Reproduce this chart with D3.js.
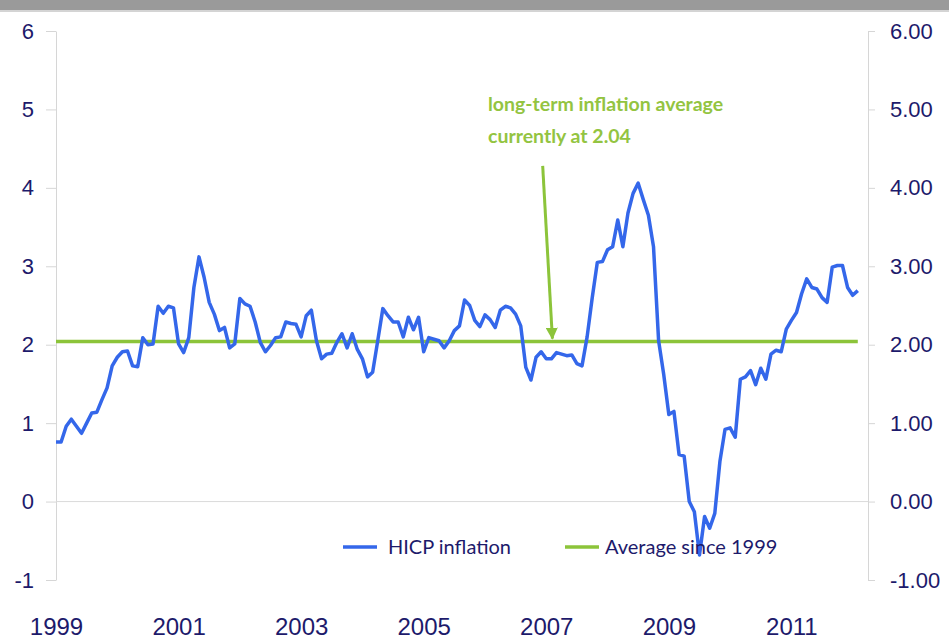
<!DOCTYPE html>
<html>
<head>
  <meta charset="UTF-8">
  <title>HICP inflation</title>
  <script src="https://cdn.jsdelivr.net/npm/d3@7/dist/d3.min.js"></script>
  <style>
    body { margin: 0; background: #fff; }
    svg { display: block; font-family: Lato, "Open Sans", sans-serif; }
    .axis text { fill: #1d1a6b; }
    .axis .domain, .axis .tick line { stroke: #d6d6d6; }
  </style>
</head>
<body>
<div id="chart"></div>
<script>
  // monthly HICP inflation, Jan 1999 .. Feb 2012
  var hicp = [
    0.76, 0.76, 0.96, 1.05, 0.96, 0.87, 1.00, 1.13, 1.14, 1.30, 1.45, 1.73,   // 1999
    1.84, 1.91, 1.92, 1.73, 1.72, 2.09, 2.00, 2.01, 2.49, 2.40, 2.49, 2.47,   // 2000
    2.01, 1.90, 2.09, 2.73, 3.12, 2.86, 2.54, 2.39, 2.18, 2.22, 1.96, 2.01,   // 2001
    2.59, 2.52, 2.49, 2.29, 2.03, 1.91, 1.99, 2.09, 2.10, 2.29, 2.27, 2.26,   // 2002
    2.10, 2.37, 2.44, 2.05, 1.82, 1.88, 1.89, 2.03, 2.14, 1.96, 2.14, 1.94,   // 2003
    1.82, 1.59, 1.65, 2.05, 2.46, 2.37, 2.29, 2.29, 2.10, 2.35, 2.19, 2.35,   // 2004
    1.91, 2.09, 2.07, 2.05, 1.96, 2.05, 2.18, 2.24, 2.57, 2.50, 2.31, 2.23,   // 2005
    2.38, 2.32, 2.22, 2.44, 2.49, 2.47, 2.39, 2.24, 1.71, 1.55, 1.84, 1.91,   // 2006
    1.82, 1.82, 1.90, 1.88, 1.86, 1.87, 1.76, 1.73, 2.10, 2.60, 3.05, 3.06,   // 2007
    3.21, 3.25, 3.59, 3.25, 3.68, 3.93, 4.06, 3.85, 3.65, 3.25, 2.05, 1.62,   // 2008
    1.11, 1.15, 0.60, 0.58, 0.00, -0.13, -0.68, -0.19, -0.34, -0.15, 0.51, 0.92, // 2009
    0.94, 0.82, 1.56, 1.59, 1.67, 1.49, 1.70, 1.56, 1.88, 1.93, 1.91, 2.20,   // 2010
    2.31, 2.41, 2.65, 2.84, 2.73, 2.71, 2.60, 2.54, 2.99, 3.01, 3.01, 2.73,   // 2011
    2.63, 2.69                                                                // 2012
  ];
  var average = 2.04;
  var yearLabels = ['1999', '2001', '2003', '2005', '2007', '2009', '2011'];
  var leftTicks = [-1, 0, 1, 2, 3, 4, 5, 6];
  var rightTicks = [-1, 0, 1, 2, 3, 4, 5, 6];

  var W = 949, H = 642;
  var blue = '#3467ea', green = '#8cc43a', navy = '#1d1a6b';

  var svg = d3.select('#chart').append('svg')
    .attr('width', W)
    .attr('height', H);

  // grey strip at the top
  svg.append('rect').attr('x', 0).attr('y', 0).attr('width', W).attr('height', 10).attr('fill', '#9a9a9a');
  svg.append('rect').attr('x', 0).attr('y', 10).attr('width', W).attr('height', 2).attr('fill', '#d4d4d4');

  var x = d3.scaleLinear().domain([0, 159]).range([56, 868]);
  var y = d3.scaleLinear().domain([-1, 6]).range([580, 31]);

  // left axis
  svg.append('g')
    .attr('class', 'axis')
    .attr('transform', 'translate(' + x(0) + ',0)')
    .call(d3.axisLeft(y).tickValues(leftTicks).tickSize(10).tickSizeOuter(0).tickPadding(12)
      .tickFormat(d => d < 0 ? '-' + Math.abs(d) : d))
    .selectAll('text').style('font-size', '22px');

  // right axis
  svg.append('g')
    .attr('class', 'axis')
    .attr('transform', 'translate(' + x(159) + ',0)')
    .call(d3.axisRight(y).tickValues(rightTicks).tickSize(7).tickSizeOuter(0).tickPadding(15)
      .tickFormat(d => (d < 0 ? '-' : '') + Math.abs(d).toFixed(2)))
    .selectAll('text').style('font-size', '22px');

  // year labels
  var xAxis = svg.append('g')
    .attr('class', 'axis')
    .attr('transform', 'translate(0,' + y(-1) + ')')
    .call(d3.axisBottom(x).tickValues(yearLabels.map((d, i) => i * 24)).tickSize(0).tickPadding(38)
      .tickFormat((d, i) => yearLabels[i]));
  xAxis.select('.domain').remove();
  xAxis.selectAll('text').style('font-size', '24px');

  // zero line
  svg.append('line')
    .attr('x1', x(0)).attr('x2', x(159))
    .attr('y1', y(0)).attr('y2', y(0))
    .attr('stroke', '#dadada').attr('stroke-width', 1);

  // average line
  svg.append('line')
    .attr('x1', x(0)).attr('x2', x(hicp.length - 1))
    .attr('y1', y(average)).attr('y2', y(average))
    .attr('stroke', green).attr('stroke-width', 3.5);

  // HICP line
  var line = d3.line()
    .x((d, i) => x(i))
    .y(d => y(d));
  svg.append('path')
    .datum(hicp)
    .attr('d', line)
    .attr('fill', 'none')
    .attr('stroke', blue)
    .attr('stroke-width', 3.5)
    .attr('stroke-linejoin', 'round');

  // annotation
  svg.append('defs').append('marker')
    .attr('id', 'arrow')
    .attr('viewBox', '0 0 10 10')
    .attr('refX', 9).attr('refY', 5)
    .attr('markerWidth', 4).attr('markerHeight', 4)
    .attr('orient', 'auto')
    .append('path').attr('d', 'M0,0 L10,5 L0,10 z').attr('fill', green);

  svg.append('line')
    .attr('x1', x(95.3)).attr('y1', y(4.28))
    .attr('x2', x(97.2)).attr('y2', y(average) - 3)
    .attr('stroke', green).attr('stroke-width', 3)
    .attr('marker-end', 'url(#arrow)');

  var note = svg.append('text')
    .attr('fill', '#93c441')
    .style('font-size', '19.5px')
    .style('font-weight', 'bold');
  note.append('tspan').attr('x', 488).attr('y', 111).text('long-term inflation average');
  note.append('tspan').attr('x', 488).attr('y', 143).text('currently at 2.04');

  // legend
  var legend = svg.append('g').attr('transform', 'translate(343,547)');
  legend.append('line').attr('x1', 0).attr('x2', 34).attr('stroke', blue).attr('stroke-width', 3.5);
  legend.append('text').attr('x', 45).attr('y', 7).attr('fill', navy).style('font-size', '20px').text('HICP inflation');
  legend.append('line').attr('x1', 222).attr('x2', 256).attr('stroke', green).attr('stroke-width', 3.5);
  legend.append('text').attr('x', 262).attr('y', 7).attr('fill', navy).style('font-size', '20px').text('Average since 1999');
</script>
</body>
</html>
